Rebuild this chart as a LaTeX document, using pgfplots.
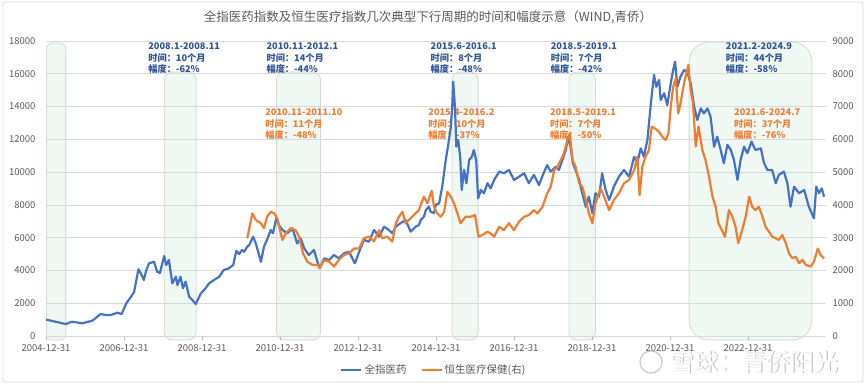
\documentclass[border=0pt]{standalone}
\usepackage{pgfplots}
\pgfplotsset{compat=1.18}
\usepackage{fontspec}
\setmainfont{Noto Sans CJK SC}
\definecolor{blueL}{HTML}{4472C4}
\definecolor{orangeL}{HTML}{ED7D31}
\definecolor{annBlue}{HTML}{2F5597}
\definecolor{bandFill}{HTML}{EFF8F3}
\definecolor{bandEdge}{HTML}{D4DAD6}
\definecolor{gridC}{HTML}{D9D9D9}
\definecolor{tickC}{HTML}{595959}

\pgfplotstableread{
x y
2005.00 1000
2005.25 870
2005.50 730
2005.67 870
2005.93 775
2006.19 935
2006.40 1340
2006.53 1280
2006.66 1280
2006.83 1420
2006.94 1340
2007.06 2000
2007.17 2360
2007.26 2700
2007.37 4070
2007.43 3830
2007.51 3420
2007.56 3920
2007.64 4430
2007.77 4530
2007.85 3920
2007.92 3830
2008.03 4880
2008.08 4330
2008.15 4640
2008.24 3210
2008.33 3620
2008.37 3110
2008.45 3620
2008.51 2910
2008.58 3320
2008.67 2400
2008.75 2200
2008.84 1950
2008.97 2600
2009.09 2910
2009.18 3210
2009.31 3420
2009.44 3620
2009.56 4030
2009.69 4130
2009.74 4230
2009.80 4330
2009.88 5200
2009.95 5000
2010.03 5250
2010.08 5140
2010.16 5450
2010.21 5550
2010.31 6060
2010.38 5650
2010.51 4530
2010.59 5450
2010.70 6060
2010.76 6470
2010.82 6270
2010.91 7240
2010.97 6770
2011.06 6470
2011.19 6270
2011.32 6570
2011.44 5650
2011.53 5960
2011.62 5350
2011.74 4940
2011.87 5250
2011.96 4530
2012.02 4130
2012.13 4740
2012.26 4640
2012.38 4940
2012.51 4740
2012.64 5040
2012.77 5140
2012.92 4430
2013.03 5140
2013.15 5860
2013.28 5750
2013.41 6470
2013.54 6060
2013.67 6670
2013.79 6470
2013.88 6270
2013.97 6670
2014.09 6880
2014.22 7080
2014.35 6370
2014.48 6670
2014.56 6770
2014.61 7080
2014.69 7280
2014.74 7690
2014.82 7890
2014.86 7590
2014.95 7490
2014.99 7990
2015.08 8100
2015.16 9110
2015.25 10740
2015.32 11760
2015.38 12770
2015.42 14200
2015.44 15520
2015.49 13790
2015.52 11550
2015.57 11960
2015.62 10940
2015.66 8910
2015.72 10130
2015.78 9320
2015.85 10740
2015.92 10940
2015.97 11350
2016.03 10740
2016.08 8400
2016.15 8910
2016.23 8710
2016.32 9320
2016.40 9010
2016.49 9520
2016.62 10030
2016.74 9930
2016.87 10130
2017.00 9520
2017.13 9720
2017.26 9930
2017.38 9320
2017.51 9830
2017.64 9210
2017.74 9830
2017.85 10430
2017.94 10030
2018.07 10330
2018.15 10130
2018.24 10740
2018.33 11350
2018.39 12160
2018.45 11550
2018.51 10540
2018.58 10130
2018.67 9520
2018.75 8710
2018.84 7890
2018.92 8500
2019.01 7490
2019.09 8710
2019.18 8500
2019.26 9930
2019.35 8910
2019.44 8300
2019.56 9110
2019.69 9720
2019.82 10130
2019.95 9720
2020.08 10940
2020.16 10540
2020.25 11450
2020.33 10940
2020.42 11960
2020.51 14200
2020.59 15930
2020.65 15210
2020.72 15620
2020.76 14400
2020.85 14810
2020.93 14090
2021.02 15420
2021.08 16230
2021.13 16740
2021.19 15210
2021.27 15830
2021.36 16230
2021.44 16130
2021.53 15420
2021.62 13990
2021.70 13180
2021.79 13890
2021.87 13580
2021.96 13890
2022.04 13380
2022.13 11550
2022.21 12160
2022.30 11350
2022.38 10540
2022.47 11660
2022.56 11350
2022.64 10740
2022.73 9520
2022.81 10740
2022.90 11550
2022.98 11150
2023.09 11860
2023.19 11350
2023.33 11450
2023.41 10540
2023.50 10130
2023.62 10130
2023.71 9320
2023.79 9830
2023.92 10030
2024.01 9320
2024.09 7890
2024.18 9110
2024.31 8710
2024.44 8910
2024.56 7890
2024.69 7180
2024.75 9110
2024.82 8710
2024.89 9010
2024.95 8500
}\bluedata

\pgfplotstableread{
x y
2010.16 2980
2010.29 3740
2010.38 3540
2010.51 3440
2010.59 3290
2010.67 3640
2010.76 3790
2010.85 3740
2010.93 3590
2011.06 2930
2011.15 3130
2011.27 3290
2011.40 3230
2011.49 3030
2011.59 2520
2011.70 2270
2011.83 2170
2011.96 2170
2012.02 2070
2012.13 2320
2012.26 2270
2012.38 2120
2012.51 2320
2012.64 2470
2012.77 2520
2012.90 2670
2013.03 2670
2013.15 2980
2013.28 3030
2013.41 2880
2013.54 3230
2013.62 2980
2013.75 3030
2013.88 2880
2013.97 3440
2014.05 3640
2014.14 3790
2014.22 3440
2014.39 3640
2014.56 3840
2014.69 4250
2014.78 4050
2014.89 4430
2014.95 3940
2015.03 3740
2015.12 3640
2015.21 3790
2015.29 4400
2015.38 4250
2015.46 4050
2015.55 3740
2015.63 3440
2015.76 3640
2015.89 3640
2016.00 3690
2016.09 3030
2016.19 3080
2016.32 3180
2016.40 3130
2016.49 3030
2016.62 3330
2016.74 3230
2016.87 3440
2017.00 3230
2017.13 3490
2017.26 3640
2017.38 3690
2017.51 3840
2017.60 3740
2017.73 3940
2017.85 4350
2017.94 4550
2018.03 5060
2018.11 5160
2018.20 5370
2018.28 5570
2018.37 5980
2018.43 6180
2018.50 5370
2018.58 5160
2018.67 4660
2018.75 4550
2018.84 4150
2018.92 3740
2019.01 3440
2019.09 4050
2019.22 4500
2019.31 4250
2019.44 3840
2019.56 4150
2019.69 4350
2019.82 4660
2019.95 4760
2020.08 5060
2020.16 5470
2020.22 4300
2020.29 5160
2020.37 5470
2020.46 5670
2020.53 6390
2020.62 6330
2020.72 6230
2020.80 6080
2020.89 5980
2020.96 6180
2021.02 7000
2021.08 7600
2021.15 7860
2021.21 6790
2021.27 7100
2021.36 7710
2021.42 8010
2021.47 8270
2021.53 7500
2021.59 7100
2021.66 5780
2021.73 6390
2021.83 5670
2021.91 5370
2022.00 4860
2022.09 4250
2022.17 3940
2022.24 3440
2022.33 3230
2022.41 3030
2022.51 3840
2022.60 3640
2022.68 3330
2022.75 2830
2022.85 3230
2022.94 3640
2023.03 4250
2023.11 3940
2023.19 3840
2023.28 3940
2023.37 3640
2023.45 3330
2023.54 3180
2023.62 3030
2023.71 2980
2023.79 2930
2023.88 3080
2023.97 2830
2024.05 2520
2024.14 2370
2024.22 2420
2024.31 2220
2024.40 2320
2024.48 2170
2024.61 2120
2024.69 2270
2024.79 2670
2024.86 2470
2024.95 2370
}\orangedata

\pgfplotsset{
  base/.style={scale only axis, width=780pt, height=295pt,
    xmin=2005, xmax=2025, at={(0pt,0pt)}, anchor=south west, clip=false,
    scaled y ticks=false},
}
\tikzset{
  band/.style={fill=bandFill, draw=bandEdge, line width=0.8pt},
  ann/.style={anchor=west, inner sep=0pt, font=\fontsize{9.2}{11}\selectfont\bfseries},
}

\begin{document}
\begin{tikzpicture}
\path[use as bounding box] (-46pt,-51pt) rectangle (819pt,336pt);
\draw[black!15, line width=0.8pt, rounded corners=2pt] (-43pt,-46pt) rectangle (817pt,334pt);

% bands
\begin{axis}[base, hide axis, ymin=0, ymax=18000]
\draw[band, rounded corners=6pt] (axis cs:2005.01,-250) rectangle (axis cs:2005.51,17880);
\draw[band, rounded corners=8pt] (axis cs:2008.03,-250) rectangle (axis cs:2008.85,16110);
\draw[band, rounded corners=8pt] (axis cs:2010.91,-250) rectangle (axis cs:2012.04,16110);
\draw[band, rounded corners=8pt] (axis cs:2015.41,-250) rectangle (axis cs:2016.08,16110);
\draw[band, rounded corners=8pt] (axis cs:2018.41,-250) rectangle (axis cs:2019.09,16110);
\draw[band, rounded corners=20pt] (axis cs:2021.49,-250) rectangle (axis cs:2024.64,17940);
\end{axis}

% left axis with blue series
\begin{axis}[base, ymin=0, ymax=18000,
  axis x line*=bottom, axis y line*=left,
  x axis line style={draw=gridC, line width=0.8pt},
  y axis line style={draw=none},
  ytick={0,2000,...,18000},
  xtick={2005,2007,...,2023},
  xticklabels={2004-12-31,2006-12-31,2008-12-31,2010-12-31,2012-12-31,2014-12-31,2016-12-31,2018-12-31,2020-12-31,2022-12-31},
  tick align=outside,
  xtick style={draw=black!30, line width=0.6pt},
  major tick length=4pt,
  ytick style={draw=none},
  ymajorgrids, grid style={draw=gridC, line width=0.7pt},
  tick label style={font=\fontsize{9.5}{11}\selectfont, text=tickC},
  xticklabel style={yshift=-1pt},
  yticklabel style={xshift=-3pt},
  /pgf/number format/assume math mode=true,
  /pgf/number format/1000 sep={},
]
\node[ann, annBlue] at (axis cs:2007.62,17664) {2008.1-2008.11};
\node[ann, annBlue, yshift=-11.3pt] at (axis cs:2007.62,17664) {时间：10个月};
\node[ann, annBlue, yshift=-22.6pt] at (axis cs:2007.62,17664) {幅度：-62\%};
\node[ann, annBlue] at (axis cs:2010.65,17664) {2010.11-2012.1};
\node[ann, annBlue, yshift=-11.3pt] at (axis cs:2010.65,17664) {时间：14个月};
\node[ann, annBlue, yshift=-22.6pt] at (axis cs:2010.65,17664) {幅度：-44\%};
\node[ann, annBlue] at (axis cs:2014.86,17664) {2015.6-2016.1};
\node[ann, annBlue, yshift=-11.3pt] at (axis cs:2014.86,17664) {时间：8个月};
\node[ann, annBlue, yshift=-22.6pt] at (axis cs:2014.86,17664) {幅度：-48\%};
\node[ann, annBlue] at (axis cs:2017.94,17664) {2018.5-2019.1};
\node[ann, annBlue, yshift=-11.3pt] at (axis cs:2017.94,17664) {时间：7个月};
\node[ann, annBlue, yshift=-22.6pt] at (axis cs:2017.94,17664) {幅度：-42\%};
\node[ann, annBlue] at (axis cs:2022.43,17664) {2021.2-2024.9};
\node[ann, annBlue, yshift=-11.3pt] at (axis cs:2022.43,17664) {时间：44个月};
\node[ann, annBlue, yshift=-22.6pt] at (axis cs:2022.43,17664) {幅度：-58\%};
\node[ann, orangeL] at (axis cs:2010.62,13637) {2010.11-2011.10};
\node[ann, orangeL, yshift=-11.3pt] at (axis cs:2010.62,13637) {时间：11个月};
\node[ann, orangeL, yshift=-22.6pt] at (axis cs:2010.62,13637) {幅度：-48\%};
\node[ann, orangeL] at (axis cs:2014.80,13637) {2015.4-2016.2};
\node[ann, orangeL, yshift=-11.3pt] at (axis cs:2014.80,13637) {时间：10个月};
\node[ann, orangeL, yshift=-22.6pt] at (axis cs:2014.80,13637) {幅度：-37\%};
\node[ann, orangeL] at (axis cs:2017.92,13637) {2018.5-2019.1};
\node[ann, orangeL, yshift=-11.3pt] at (axis cs:2017.92,13637) {时间：7个月};
\node[ann, orangeL, yshift=-22.6pt] at (axis cs:2017.92,13637) {幅度：-50\%};
\node[ann, orangeL] at (axis cs:2022.64,13637) {2021.6-2024.7};
\node[ann, orangeL, yshift=-11.3pt] at (axis cs:2022.64,13637) {时间：37个月};
\node[ann, orangeL, yshift=-22.6pt] at (axis cs:2022.64,13637) {幅度：-76\%};
\addplot[blueL, line width=2.2pt, line join=round] table[x=x, y=y] {\bluedata};
\end{axis}

% right axis with orange series
\begin{axis}[base, ymin=0, ymax=9000,
  axis x line=none, axis y line*=right,
  y axis line style={draw=none},
  ytick={0,1000,...,9000},
  ytick style={draw=none},
  tick label style={font=\fontsize{9.5}{11}\selectfont, text=tickC},
  yticklabel style={xshift=3pt},
  /pgf/number format/assume math mode=true,
  /pgf/number format/1000 sep={},
  legend columns=2,
  legend style={at={(0.497,-0.1153)}, anchor=center, draw=none, fill=none,
    font=\fontsize{10.5}{12}\selectfont, text=tickC,
    /tikz/every even column/.append style={column sep=12pt}},
  legend image code/.code={\draw[#1] (0pt,0pt) -- (20pt,0pt);},
]
\addlegendimage{blueL, line width=2.5pt}
\addlegendentry{全指医药}
\addplot[orangeL, line width=2.2pt, line join=round] table[x=x, y=y] {\orangedata};
\addlegendentry{恒生医疗保健(右)}
\end{axis}

\node[font=\fontsize{12.5}{14}\selectfont, text=black!65] at (382pt,319pt) {全指医药指数及恒生医疗指数几次典型下行周期的时间和幅度示意（WIND,青侨）};

% watermark
\draw[black!30, line width=1.2pt, opacity=0.7] (605pt,-26pt) circle (11pt);
\node[font=\fontsize{24}{26}\selectfont, text=black!35, opacity=0.8] at (709pt,-26.6pt) {雪球：青侨阳光};
\node[font=\fontsize{24}{26}\selectfont, text=white] at (708.4pt,-26pt) {雪球：青侨阳光};
\end{tikzpicture}
\end{document}
